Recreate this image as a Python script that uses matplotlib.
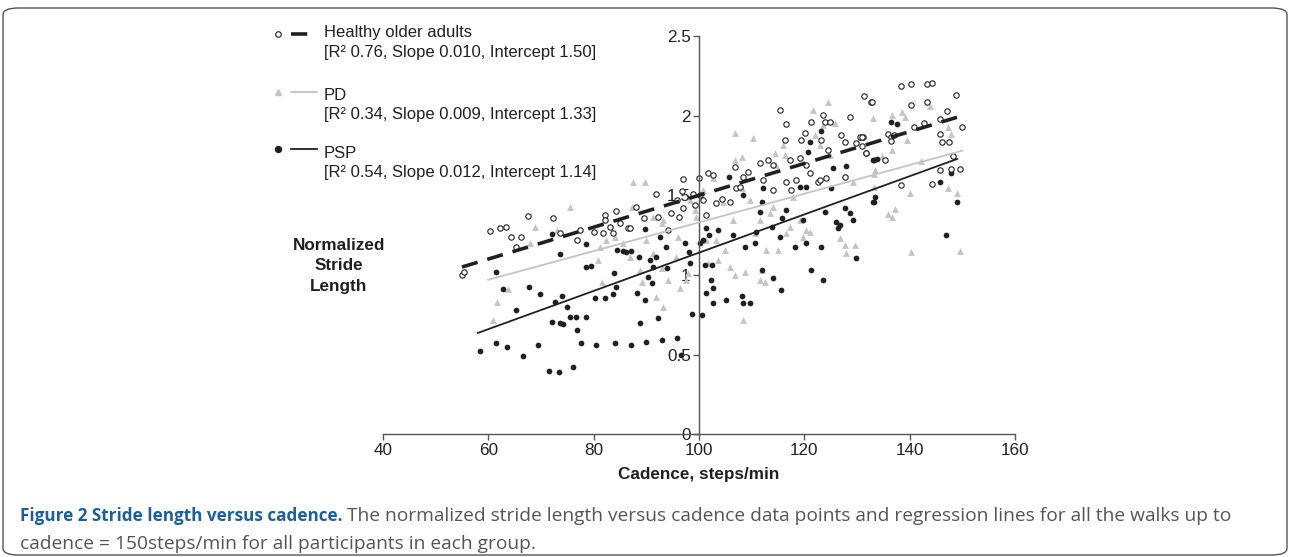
import numpy as np
import matplotlib.pyplot as plt
from matplotlib.lines import Line2D
from matplotlib.patches import FancyBboxPatch

# healthy older adults (open circles)
healthy_x = [55.0, 55.3, 60.3, 62.2, 63.3, 64.3, 66.2, 65.2, 67.6, 72.2, 73.6, 76.8, 77.4, 80.1,
             82.1, 84.2, 82.1, 83.1, 81.8, 83.7, 85.0, 86.6, 86.9, 88.0, 89.5, 91.9, 92.2, 94.1,
             94.6, 95.9, 96.7, 97.0, 96.2, 97.0, 98.8, 99.2, 100.0, 100.2, 100.8, 101.4, 101.7,
             102.7, 103.3, 104.4, 105.8, 106.8, 107.1, 107.7, 108.4, 109.3, 111.5, 112.2, 113.1,
             114.1, 114.1, 115.3, 116.6, 116.3, 117.2, 117.5, 116.6, 118.5, 119.1, 119.4, 120.1,
             120.4, 121.0, 121.3, 122.6, 122.9, 123.5, 123.9, 124.8, 124.2, 124.5, 123.2, 127.0,
             127.7, 128.6, 127.7, 129.9, 130.5, 131.1, 131.8, 132.7, 138.4, 140.3, 143.2, 144.3,
             131.3, 132.8, 140.3, 143.2, 148.8, 147.1, 145.7, 142.8, 140.8, 135.9, 136.5, 136.4,
             137.1, 145.7, 146.2, 147.5, 149.9, 131.0, 131.0, 131.8, 135.3, 145.7, 147.9, 149.5,
             138.4, 144.3, 148.2]
healthy_y = [1.00, 1.02, 1.277, 1.293, 1.300, 1.237, 1.237, 1.178, 1.371, 1.356, 1.266, 1.220,
             1.283, 1.272, 1.377, 1.404, 1.346, 1.304, 1.262, 1.262, 1.329, 1.297, 1.293, 1.429,
             1.356, 1.509, 1.366, 1.283, 1.387, 1.471, 1.530, 1.603, 1.362, 1.419, 1.509, 1.440,
             1.607, 1.502, 1.471, 1.377, 1.643, 1.628, 1.450, 1.477, 1.461, 1.680, 1.544, 1.555,
             1.617, 1.649, 1.701, 1.597, 1.722, 1.691, 1.534, 2.036, 1.948, 1.848, 1.722, 1.534,
             1.586, 1.597, 1.733, 1.848, 1.889, 1.691, 1.639, 1.963, 1.586, 1.597, 2.004, 1.963,
             1.963, 1.607, 1.785, 1.848, 1.879, 1.837, 1.994, 1.613, 1.827, 1.864, 1.869, 1.764,
             2.088, 2.189, 2.197, 2.197, 2.203, 2.126, 2.086, 2.065, 2.086, 2.128, 2.030, 1.977,
             1.956, 1.927, 1.885, 1.868, 1.843, 1.879, 1.885, 1.837, 1.837, 1.931, 1.864, 1.810,
             1.764, 1.722, 1.659, 1.668, 1.668, 1.563, 1.571, 1.747]

# PD (grey triangles)
pd_x = [61.6, 60.9, 63.8, 68.8, 67.9, 75.5, 73.0, 81.2, 80.9, 82.4, 81.5, 84.0, 85.6, 86.9, 87.5,
        87.2, 88.8, 89.1, 90.0, 89.7, 91.3, 91.3, 91.9, 92.9, 93.2, 92.9, 93.2, 94.1, 96.0, 95.7,
        96.4, 97.6, 97.9, 99.2, 99.5, 98.3, 100.8, 101.4, 101.7, 102.7, 103.3, 103.6, 104.6, 104.9,
        105.8, 106.5, 106.8, 106.8, 106.8, 108.1, 108.1, 108.4, 108.7, 109.6, 110.3, 110.6, 111.5,
        111.5, 111.9, 112.5, 112.8, 113.4, 114.1, 114.4, 114.7, 115.0, 116.0, 116.3, 116.6, 117.2,
        117.9, 119.1, 119.8, 120.4, 121.0, 121.7, 122.0, 122.9, 123.6, 124.5, 124.8, 125.8, 126.7,
        127.7, 128.0, 129.2, 129.6, 130.8, 133.0, 133.4, 136.6, 138.5, 139.2, 143.8, 139.5, 136.6,
        134.8, 133.3, 142.2, 147.9, 147.3, 140.0, 147.3, 149.0, 135.9, 136.6, 137.3, 140.2, 149.6,
        133.3]
pd_y = [0.833, 0.718, 0.910, 1.300, 1.199, 1.425, 1.283, 1.178, 1.094, 1.220, 0.958, 1.241, 1.199,
        1.115, 1.586, 1.429, 1.032, 0.958, 1.220, 1.586, 1.366, 1.136, 0.864, 1.325, 1.346, 1.042,
        0.802, 0.969, 1.241, 1.115, 0.917, 0.969, 1.011, 1.408, 1.366, 1.471, 1.534, 1.220, 1.074,
        1.607, 1.220, 1.094, 1.461, 1.157, 1.053, 1.346, 1.889, 1.722, 1.000, 1.743, 1.544, 0.718,
        1.021, 1.471, 1.858, 1.262, 1.346, 0.969, 1.032, 0.958, 1.157, 1.387, 1.429, 1.764, 1.691,
        1.157, 1.816, 1.754, 1.262, 1.304, 1.492, 1.346, 1.241, 1.283, 1.272, 2.036, 1.879, 1.816,
        1.942, 2.088, 1.754, 1.952, 1.230, 1.189, 1.136, 1.586, 1.189, 1.869, 1.984, 1.659, 2.004,
        2.025, 1.994, 2.061, 1.848, 1.785, 1.747, 1.634, 1.718, 1.885, 1.931, 1.513, 1.544, 1.517,
        1.381, 1.362, 1.412, 1.147, 1.153, 1.555]

# PSP (filled circles)
psp_x = [61.4, 62.7, 65.2, 67.8, 69.8, 72.6, 73.9, 74.9, 72.0, 73.6, 74.2, 75.5, 76.6, 78.6, 76.9,
         72.0, 73.7, 78.6, 78.6, 79.4, 80.2, 82.1, 83.8, 83.7, 84.3, 84.5, 85.5, 86.2, 87.0, 88.3,
         88.6, 89.7, 89.8, 90.3, 90.7, 91.3, 91.9, 92.6, 93.8, 93.9, 91.0, 88.8, 92.2, 95.9, 97.3,
         98.1, 98.3, 98.6, 100.5, 100.2, 100.8, 101.4, 101.9, 101.1, 102.4, 102.2, 102.7, 101.4,
         102.7, 103.6, 105.2, 105.7, 106.5, 108.1, 108.4, 109.6, 108.4, 108.7, 110.6, 110.9, 111.5,
         111.9, 112.2, 111.9, 114.1, 115.6, 113.8, 115.3, 115.7, 116.6, 118.2, 119.1, 119.8, 120.4,
         120.4, 120.7, 121.0, 121.3, 123.2, 123.2, 123.6, 123.9, 125.1, 125.5, 126.1, 126.4, 126.7,
         127.7, 128.0, 128.6, 129.2, 129.9, 133.0, 133.0, 133.4, 136.5, 137.6, 133.2, 133.8, 133.2,
         145.7, 147.9, 148.9, 146.9,
         58.5, 61.5, 63.5, 66.5, 69.5, 71.5, 73.5, 76.0, 77.5, 80.5, 84.0, 87.0, 90.0, 93.0, 96.5]
psp_y = [1.021, 0.910, 0.781, 0.923, 0.881, 0.833, 0.868, 0.802, 0.708, 0.701, 0.693, 0.735, 0.739,
         0.739, 0.655, 1.258, 1.132, 1.195, 1.053, 1.057, 0.854, 0.854, 1.011, 0.879, 0.927, 1.157,
         1.153, 1.147, 1.153, 0.889, 1.115, 1.287, 0.843, 0.990, 1.094, 1.053, 1.115, 1.241, 1.178,
         1.042, 0.952, 0.701, 0.728, 0.603, 1.203, 1.147, 1.078, 0.756, 0.749, 1.199, 1.220, 1.293,
         1.251, 1.063, 1.063, 0.969, 0.917, 0.885, 0.827, 1.283, 0.843, 1.613, 1.251, 0.868, 0.827,
         0.823, 1.502, 1.178, 1.199, 1.272, 1.398, 1.461, 1.544, 1.032, 0.979, 0.906, 1.304, 1.241,
         1.356, 1.408, 1.178, 1.555, 1.346, 1.555, 1.199, 1.774, 1.837, 1.032, 1.906, 1.178, 0.969,
         1.398, 1.544, 1.670, 1.335, 1.293, 1.314, 1.419, 1.684, 1.387, 1.346, 1.105, 1.722, 1.461,
         1.492, 1.963, 1.946, 1.722, 1.726, 1.455, 1.582, 1.638, 1.460, 1.253,
         0.52, 0.57, 0.55, 0.49, 0.56, 0.40, 0.39, 0.42, 0.57, 0.56, 0.57, 0.56, 0.58, 0.59, 0.50]

# regression lines: y = intercept + slope * (cadence - 100)
groups = ["Healthy older adults", "PD", "PSP"]
r2 = [0.76, 0.34, 0.54]
slopes = [0.010, 0.009, 0.012]
intercepts = [1.50, 1.33, 1.14]
fit_range = [(55, 150), (60, 150), (58, 149)]

xticks = [40, 60, 80, 100, 120, 140, 160]
yticks = [0, 0.5, 1, 1.5, 2, 2.5]
ytick_labels = ["0", "0.5", "1", "1.5", "2", "2.5"]

dark = "#231f20"
grey = "#c4c4c4"
W, H = 1290, 557

plt.rcParams['font.family'] = ['Liberation Sans', 'DejaVu Sans']

fig = plt.figure(figsize=(W / 100, H / 100), dpi=100)
ax = fig.add_axes([383 / W, 1 - 434.3 / H, 632 / W, 398.3 / H])

ax.scatter(pd_x, pd_y, marker="^", s=24, color=grey, linewidths=0, zorder=2)
ax.scatter(psp_x, psp_y, marker="o", s=17, color=dark, linewidths=0, zorder=2)
ax.scatter(healthy_x, healthy_y, marker="o", s=15, facecolors="white", edgecolors=dark,
           linewidths=0.8, zorder=2)

styles = [dict(color=dark, lw=2.6, dashes=(4.5, 2.8)),
          dict(color=grey, lw=1.3),
          dict(color=dark, lw=1.3)]
for (x0, x1), b, m, st in zip(fit_range, intercepts, slopes, styles):
    xs = np.array([x0, x1])
    ax.plot(xs, b + m * (xs - 100), zorder=3, **st)

ax.set_xlim(40, 160)
ax.set_ylim(0, 2.5)
ax.set_xticks(xticks)
ax.set_yticks(yticks)
ax.set_yticklabels(ytick_labels)
ax.spines["left"].set_position(("data", 100))
ax.spines["bottom"].set_position(("data", 0))
ax.spines["top"].set_visible(False)
ax.spines["right"].set_visible(False)
for s in ["left", "bottom"]:
    ax.spines[s].set_color("#555555")
    ax.spines[s].set_linewidth(1.0)
ax.tick_params(direction="out", length=4, width=1, color="#555555", labelcolor=dark,
               labelsize=12.3, pad=2)
ax.set_axisbelow(True)
ax.patch.set_visible(False)

ax.set_xlabel("Cadence, steps/min", fontsize=12.3, fontweight="bold", color=dark, labelpad=7)
fig.text(339 / W, 1 - 266 / H, "Normalized\nStride\nLength", ha="center", va="center",
         fontsize=12.3, fontweight="bold", color=dark, linespacing=1.45)

# legend
key_rows = [33.5, 92, 149]
text_rows = [(33, 53), (95, 114), (153, 172.5)]
markers = [dict(marker="o", ms=4, mfc="white", mec=dark, mew=0.8),
           dict(marker="^", ms=5, mfc=grey, mec=grey),
           dict(marker="o", ms=4.3, mfc=dark, mec=dark)]
for i, y in enumerate(key_rows):
    fy = 1 - y / H
    fig.add_artist(Line2D([278 / W], [fy], transform=fig.transFigure, ls="none", **markers[i]))
    fig.add_artist(Line2D([291 / W, 317 / W], [fy, fy], transform=fig.transFigure, **styles[i]))
    y1, y2 = text_rows[i]
    fig.text(324 / W, 1 - y1 / H, groups[i], ha="left", va="center", fontsize=12, color=dark)
    fig.text(324 / W, 1 - y2 / H, "[R\u00b2 %.2f, Slope %.3f, Intercept %.2f]"
             % (r2[i], slopes[i], intercepts[i]), ha="left", va="center", fontsize=12, color=dark)

# caption
cap_font = ["Open Sans", "DejaVu Sans"]
t = fig.text(20 / W, 1 - 516 / H, "Figure 2 Stride length versus cadence.", fontsize=12.3,
             fontweight="bold", color="#1d5f9b", family=cap_font, va="center")
ax.annotate(" The normalized stride length versus cadence data points and regression lines "
            "for all the walks up to", xy=(1, 0.5), xycoords=t, va="center", ha="left",
            fontsize=13.8, color="#555555", family=cap_font, annotation_clip=False)
fig.text(20 / W, 1 - 544 / H, "cadence = 150steps/min for all participants in each group.",
         fontsize=13.8, color="#555555", family=cap_font, va="center")

box = FancyBboxPatch((3 / W, 2 / H), 1284 / W, 547 / H, transform=fig.transFigure,
                     boxstyle="round,pad=0,rounding_size=0.012", fill=False,
                     edgecolor="#555555", lw=1.0)
fig.add_artist(box)

fig.savefig("out.png", dpi=100)
